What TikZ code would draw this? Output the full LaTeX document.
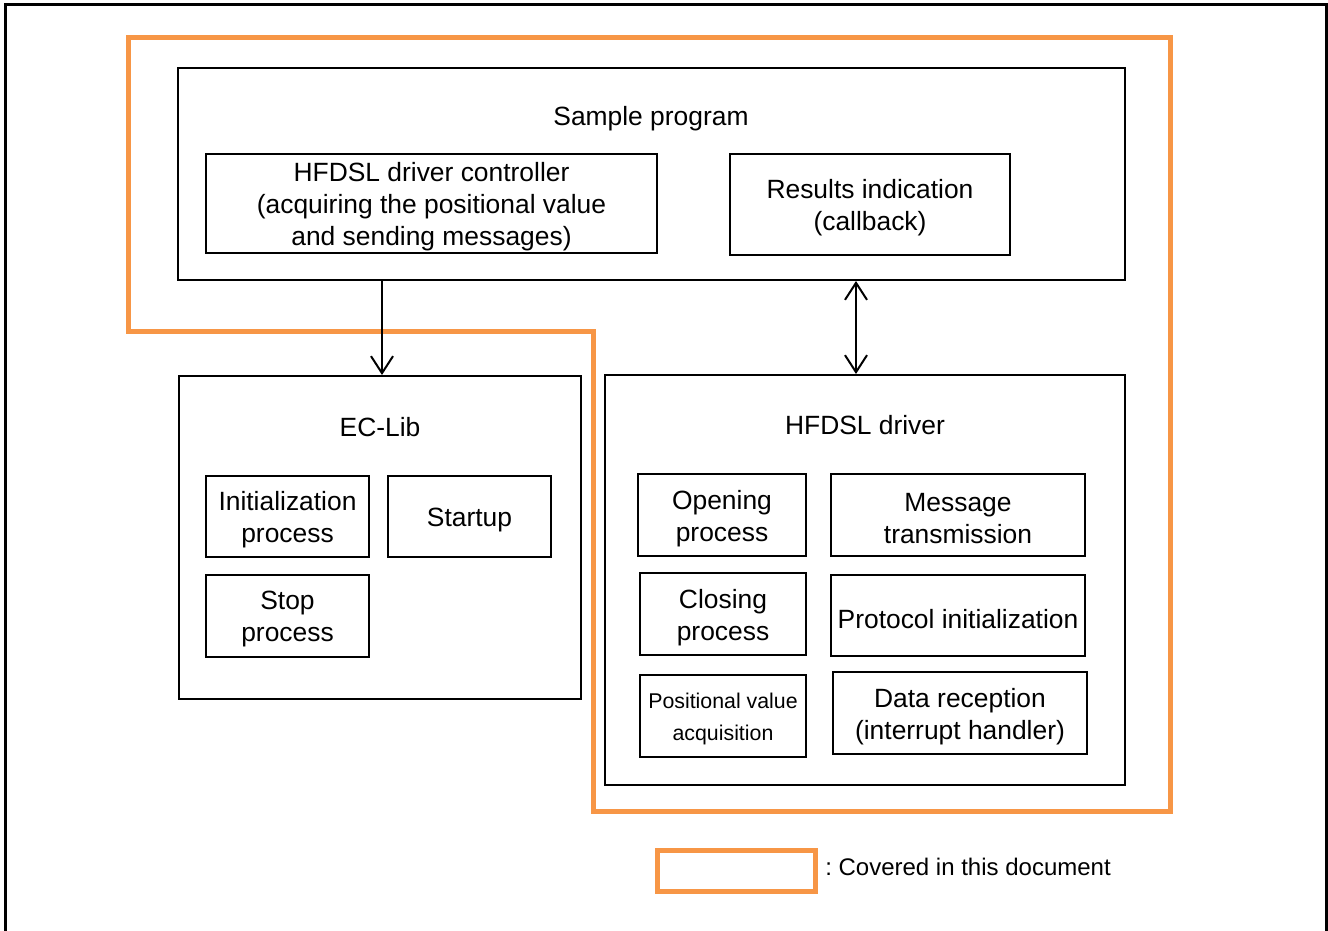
\documentclass[tikz,border=0pt]{standalone}
\usepackage{fontspec}
\setmainfont{Liberation Sans}
\usetikzlibrary{arrows.meta}
\definecolor{scope}{HTML}{F79646}
\tikzset{
  txt/.style={font=\fontsize{19.8}{24}\selectfont, align=center, inner sep=0pt},
  box/.style={draw=black, line width=1.5pt, rectangle, inner sep=0pt},
  boxtext/.style={label={[txt,yshift=-2.4pt]center:{#1}}},
  smalltext/.style={label={[txt,font=\fontsize{16}{24}\selectfont,yshift=-2.4pt]center:{#1}}},
  openbarb/.tip={Straight Barb[length=12.75pt,width=16.5pt,line width=1.5pt]},
  arr/.style={line width=1.5pt, -openbarb},
  darr/.style={line width=1.5pt, openbarb-openbarb},
  scopeline/.style={draw=scope, line width=3.75pt, line join=miter}
}
\begin{document}
\begin{tikzpicture}[x=0.75pt,y=-0.75pt]
\useasboundingbox (0,0) rectangle (1328,931);
% outer frame
\draw[line width=2.25pt] (5,940) -- (5,5) -- (1326,5) -- (1326,940);

% outline of the part this document covers
\draw[scopeline] (128,38) -- (1170,38) -- (1170,811) -- (593,811) -- (593,331) -- (128,331) -- cycle;

% sample program
\node[box, minimum width=947*0.75pt, minimum height=212*0.75pt] (sample) at (651.5,174) {};
\node[txt] (sampletitle) at (651,119) {Sample program};
\node[box, minimum width=451*0.75pt, minimum height=99*0.75pt,
  boxtext={HFDSL driver controller\\(acquiring the positional value\\and sending messages)}] (ctrl) at (431.5,203.5) {};
\node[box, minimum width=280*0.75pt, minimum height=101*0.75pt,
  boxtext={Results indication\\(callback)}] (result) at (870,204.5) {};

% EC-Lib
\node[box, minimum width=402*0.75pt, minimum height=323*0.75pt] (eclib) at (380,537.5) {};
\node[txt] (ectitle) at (380,427) {EC-Lib};
\node[box, minimum width=163*0.75pt, minimum height=81*0.75pt,
  boxtext={Initialization\\process}] (init) at (287.5,516.5) {};
\node[box, minimum width=163*0.75pt, minimum height=81*0.75pt,
  boxtext={Startup}] (startup) at (469.5,516.5) {};
\node[box, minimum width=163*0.75pt, minimum height=82*0.75pt,
  boxtext={Stop\\process}] (stop) at (287.5,616) {};

% HFDSL driver
\node[box, minimum width=520*0.75pt, minimum height=410*0.75pt] (drv) at (865,580) {};
\node[txt] (drvtitle) at (865,425) {HFDSL driver};
\node[box, minimum width=168*0.75pt, minimum height=82*0.75pt,
  boxtext={Opening\\process}] (open) at (722,515) {};
\node[box, minimum width=254*0.75pt, minimum height=82*0.75pt,
  boxtext={Message\\transmission}] (msg) at (958,515) {};
\node[box, minimum width=166*0.75pt, minimum height=82*0.75pt,
  boxtext={Closing\\process}] (close) at (723,614) {};
\node[box, minimum width=254*0.75pt, minimum height=81*0.75pt,
  boxtext={Protocol initialization}] (proto) at (958,615.5) {};
\node[box, minimum width=166*0.75pt, minimum height=82*0.75pt,
  smalltext={Positional value\\acquisition}] (pos) at (723,716) {};
\node[box, minimum width=254*0.75pt, minimum height=82*0.75pt,
  boxtext={Data reception\\(interrupt handler)}] (rx) at (960,713) {};

% connectors
\coordinate (ecx) at (382,0);
\coordinate (drx) at (856,0);
\draw[arr] (ecx |- sample.south) -- (ecx |- eclib.north);
\draw[darr] (drx |- sample.south) -- (drx |- drv.north);

% legend
\node[draw=scope, line width=3.75pt, minimum width=158*0.75pt, minimum height=41*0.75pt, inner sep=0pt] (legend) at (736,870.5) {};
\node[txt, font=\fontsize{18}{24}\selectfont, anchor=west] (legendtext) at (825,867) {\frenchspacing : Covered in this document};
\end{tikzpicture}
\end{document}
